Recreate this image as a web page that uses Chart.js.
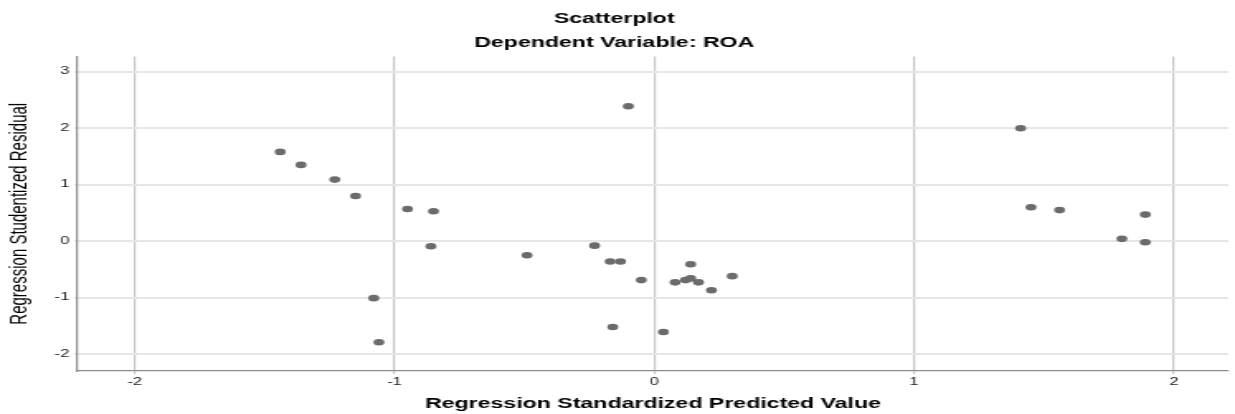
<!DOCTYPE html>
<html>
<head>
<meta charset="utf-8">
<script src="https://cdn.jsdelivr.net/npm/chart.js@4/dist/chart.umd.min.js"></script>
<style>
  html, body { margin: 0; padding: 0; background: #ffffff; overflow: hidden; }
  #wrap { width: 748px; height: 414px; transform: scaleX(1.6511); transform-origin: 0 0; }
  canvas { display: block; }
</style>
</head>
<body>
<div id="wrap"><canvas id="c" width="748" height="414"></canvas></div>
<script>
// Chart data
const titleLines = ['Scatterplot', 'Dependent Variable: ROA'];
const xAxisTitle = 'Regression Standardized Predicted Value';
const yAxisTitle = 'Regression Studentized Residual';
const predictedValues = [-1.44, -1.36, -1.23, -1.15, -0.95, -0.85, -0.86, -1.08, -1.06, -0.10,
                         -0.49, -0.23, -0.17, -0.13, -0.05, -0.16, 0.035, 0.08, 0.12, 0.14,
                         0.17, 0.22, 0.30, 0.14, 1.41, 1.45, 1.56, 1.80, 1.89, 1.89];
const residualValues = [1.58, 1.35, 1.09, 0.80, 0.57, 0.53, -0.09, -1.01, -1.79, 2.39,
                        -0.25, -0.08, -0.36, -0.36, -0.69, -1.52, -1.61, -0.73, -0.69, -0.66,
                        -0.73, -0.87, -0.62, -0.41, 2.00, 0.60, 0.55, 0.04, 0.47, -0.02];
const xTickValues = [-2, -1, 0, 1, 2];
const yTickValues = [-2, -1, 0, 1, 2, 3];

const points = predictedValues.map((x, i) => ({ x: x, y: residualValues[i] }));
const FONT = "'Liberation Sans', Arial, sans-serif";

new Chart(document.getElementById('c'), {
  type: 'scatter',
  data: {
    datasets: [{
      data: points,
      pointRadius: 3.3,
      pointBorderWidth: 0,
      backgroundColor: '#6b6b6b',
      borderColor: '#6b6b6b'
    }]
  },
  options: {
    responsive: false,
    animation: false,
    devicePixelRatio: 1,
    layout: { padding: { left: 0, right: 4, top: 0, bottom: 0 } },
    plugins: {
      legend: { display: false },
      tooltip: { enabled: false },
      title: {
        display: true,
        text: titleLines,
        color: '#000000',
        font: { family: FONT, size: 14, weight: 'bold', lineHeight: 1.714 },
        padding: { top: 7, bottom: 1.5 }
      }
    },
    scales: {
      x: {
        type: 'linear',
        min: -2.22,
        max: 2.21,
        afterBuildTicks: (s) => { s.ticks = xTickValues.map(v => ({ value: v })); },
        afterFit: (s) => { s.height = 43; },
        ticks: {
          color: '#222222',
          font: { family: FONT, size: 10 },
          padding: 2,
          callback: (v) => String(v)
        },
        grid: { color: '#c6c6c6', lineWidth: 1.2, tickLength: 3, drawTicks: true },
        border: { display: true, color: '#8c8c8c', width: 1.2 },
        title: {
          display: true,
          text: xAxisTitle,
          color: '#000000',
          font: { family: FONT, size: 14, weight: 'bold', lineHeight: 1.2 },
          padding: { top: 0, bottom: 1 }
        }
      },
      y: {
        type: 'linear',
        min: -2.3,
        max: 3.27,
        afterBuildTicks: (s) => { s.ticks = yTickValues.map(v => ({ value: v })); },
        afterFit: (s) => { s.width = 47; },
        ticks: {
          color: '#222222',
          font: { family: FONT, size: 10 },
          padding: 3,
          callback: (v) => String(v)
        },
        grid: { color: '#e6e6e6', lineWidth: 2, tickLength: 2, drawTicks: true },
        border: { display: true, color: '#8c8c8c', width: 1.2 },
        title: {
          display: true,
          text: yAxisTitle,
          color: '#000000',
          font: { family: FONT, size: 15, lineHeight: 1.2 },
          padding: { top: 3, bottom: 0 }
        }
      }
    }
  }
});
</script>
</body>
</html>
